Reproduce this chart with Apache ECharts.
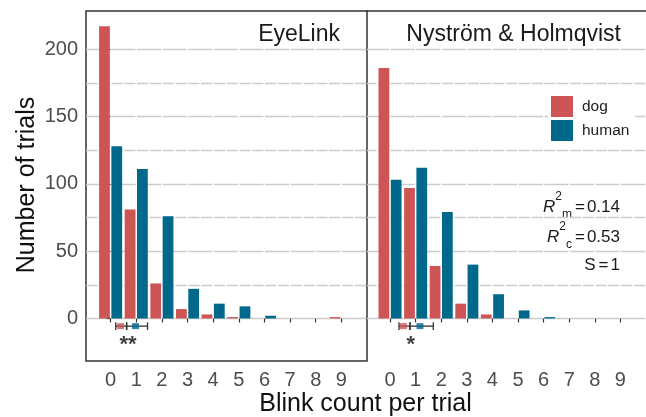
<!DOCTYPE html>
<html>
<head>
<meta charset="utf-8">
<script src="https://cdn.jsdelivr.net/npm/echarts@6/dist/echarts.min.js"></script>
<style>
  html, body { margin: 0; padding: 0; background: #fff; }
  #chart { width: 646px; height: 417px; }
</style>
</head>
<body>
<div id="chart"></div>
<script>
const blinkCounts = [0, 1, 2, 3, 4, 5, 6, 7, 8, 9];
const yTicks = [0, 50, 100, 150, 200];
const yMinor = [25, 75, 125, 175];
const panelTitles = ['EyeLink', 'Nyström & Holmqvist'];

const eyelinkDog = [217, 81, 26, 7, 3, 1, 0, 0, 0, 1];
const eyelinkHuman = [128, 111, 76, 22, 11, 9, 2, 0, 0, 0];
const nystromDog = [186, 97, 39, 11, 3, 0, 0, 0, 0, 0];
const nystromHuman = [103, 112, 79, 40, 18, 6, 1, 0, 0, 0];

// model estimate per group: [mean, lower, upper]
const eyelinkDogEst = [0.39, 0.20, 0.63];
const eyelinkHumanEst = [0.97, 0.62, 1.44];
const nystromDogEst = [0.52, 0.35, 0.78];
const nystromHumanEst = [1.17, 0.78, 1.69];
const estLevel = -5.7;

const sigStars = ['**', '*'];
const sigX = [0.68, 0.81];
const starLevel = -20;

const r2m = '0.14';
const r2c = '0.53';
const sValue = '1';

const red = '#CD5555';
const blue = '#00688B';
const font = '"Liberation Sans", Arial, sans-serif';
const gridColor = '#cbcbcb';

const chart = echarts.init(document.getElementById('chart'));

function pairs(vals) {
    return blinkCounts.map((c, i) => [c, vals[i]]);
}

function gridLines(idx, offset) {
    let major = yTicks.map(v => ({yAxis: v, lineStyle: {color: gridColor, width: 1.4, type: [24.1, 1.5], dashOffset: offset}}));
    let minor = yMinor.map(v => ({yAxis: v, lineStyle: {color: gridColor, width: 1.4, type: [11.3, 1.5], dashOffset: offset}}));
    return {
        type: 'line', xAxisIndex: idx, yAxisIndex: idx, data: [], silent: true, z: 0,
        markLine: {
            silent: true, symbol: ['none', 'none'], label: {show: false}, z: 0,
            emphasis: {disabled: true},
            data: major.concat(minor)
        }
    };
}

function bars(idx, name, vals, color) {
    return {
        type: 'bar', name: name, xAxisIndex: idx, yAxisIndex: idx, z: 2,
        data: pairs(vals), barCategoryGap: '10%', barGap: '14%',
        itemStyle: {color: color}
    };
}

function errorBars(idx, ests) {
    return {
        type: 'custom', xAxisIndex: idx, yAxisIndex: idx, z: 3,
        data: ests.map(e => [e[1], e[2], estLevel]),
        encode: {x: [0, 1], y: 2},
        renderItem: function (params, api) {
            let a = api.coord([api.value(0), api.value(2)]);
            let b = api.coord([api.value(1), api.value(2)]);
            let h = 3.8;
            let st = {stroke: '#333', lineWidth: 1.3};
            return {
                type: 'group',
                children: [
                    {type: 'line', shape: {x1: a[0], y1: a[1], x2: b[0], y2: b[1]}, style: st},
                    {type: 'line', shape: {x1: a[0], y1: a[1] - h, x2: a[0], y2: a[1] + h}, style: st},
                    {type: 'line', shape: {x1: b[0], y1: b[1] - h, x2: b[0], y2: b[1] + h}, style: st}
                ]
            };
        }
    };
}

function estPoint(idx, est, color) {
    return {
        type: 'scatter', xAxisIndex: idx, yAxisIndex: idx, z: 4, silent: true,
        symbol: 'rect', symbolSize: [7, 6],
        itemStyle: {color: color},
        data: [[est[0], estLevel]]
    };
}

function stars(idx) {
    return {
        type: 'scatter', xAxisIndex: idx, yAxisIndex: idx, z: 4, silent: true,
        symbolSize: 1, itemStyle: {color: 'transparent'},
        label: {
            show: true, position: 'inside', formatter: p => p.data.name,
            fontSize: 22, fontWeight: 'bold', color: '#111', fontFamily: font
        },
        data: [{name: sigStars[idx], value: [sigX[idx], starLevel]}]
    };
}

function statsRich() {
    return {
        r: {fontSize: 17, fontStyle: 'italic', fontFamily: font, fill: '#1a1a1a'},
        sup: {fontSize: 12, fontFamily: font, fill: '#1a1a1a', padding: [0, 0, 20, 0]},
        sub: {fontSize: 12, fontFamily: font, fill: '#1a1a1a', padding: [16, 0, 0, 0]},
        eq: {fontSize: 17, fontFamily: font, fill: '#1a1a1a', padding: [0, 2, 0, 3]},
        v: {fontSize: 17, fontFamily: font, fill: '#1a1a1a'}
    };
}

const xCommon = {
    type: 'value', max: 10,
    axisLine: {show: false},
    splitLine: {show: false},
    axisTick: {show: true, length: 4, lineStyle: {color: '#333', width: 1.2}, customValues: blinkCounts},
    axisLabel: {show: true, fontSize: 20, color: '#4d4d4d', margin: 9, fontFamily: font, customValues: blinkCounts}
};

const yCommon = {
    type: 'value', min: -31.6, max: 228.4,
    axisLine: {show: false},
    splitLine: {show: false}
};

const option = {
    animation: false,
    backgroundColor: '#fff',
    grid: [
        {left: 86, top: 11, width: 281, height: 350, show: true, borderColor: '#333', borderWidth: 1.5, backgroundColor: 'transparent'},
        {left: 367, top: 11, width: 281, height: 350}
    ],
    xAxis: [
        Object.assign({gridIndex: 0, min: -0.96}, xCommon),
        Object.assign({gridIndex: 1, min: -0.9}, xCommon),
        // top frame line of the right panel
        {gridIndex: 1, type: 'value', min: -0.9, max: 10, position: 'top',
         axisLine: {show: true, onZero: false, lineStyle: {color: '#333', width: 1.5}},
         axisTick: {show: false}, axisLabel: {show: false}, splitLine: {show: false}}
    ],
    yAxis: [
        Object.assign({
            gridIndex: 0,
            axisTick: {show: true, length: 4, lineStyle: {color: '#333', width: 1.2}, customValues: yTicks},
            axisLabel: {show: true, fontSize: 20, color: '#4d4d4d', margin: 8, fontFamily: font, customValues: yTicks}
        }, yCommon),
        Object.assign({
            gridIndex: 1,
            axisTick: {show: false},
            axisLabel: {show: false}
        }, yCommon)
    ],
    legend: {
        data: ['dog', 'human'], orient: 'vertical', left: 548, top: 94,
        itemWidth: 22, itemHeight: 21, itemGap: 3, icon: 'rect',
        backgroundColor: '#fff', padding: [2, 6, 2, 3], selectedMode: false,
        textStyle: {fontSize: 15.5, color: '#222', fontFamily: font, padding: [0, 0, 0, 4]}
    },
    graphic: [
        {type: 'text', x: 340, y: 35, silent: true,
         style: {text: panelTitles[0], fontSize: 23, fill: '#1a1a1a', fontFamily: font, align: 'right', verticalAlign: 'middle'}},
        {type: 'text', x: 621, y: 35, silent: true,
         style: {text: panelTitles[1], fontSize: 23, fill: '#1a1a1a', fontFamily: font, align: 'right', verticalAlign: 'middle'}},
        {type: 'text', x: 27, y: 185, rotation: Math.PI / 2, silent: true,
         style: {text: 'Number of trials', fontSize: 25, fill: '#111', fontFamily: font, align: 'center', verticalAlign: 'middle'}},
        {type: 'text', x: 365.5, y: 404, silent: true,
         style: {text: 'Blink count per trial', fontSize: 25, fill: '#111', fontFamily: font, align: 'center', verticalAlign: 'middle'}},
        {type: 'text', x: 620, y: 207, silent: true,
         style: {text: '{r|R}{sup|2}{sub|m}{eq|=}{v|' + r2m + '}', align: 'right', verticalAlign: 'middle', rich: statsRich()}},
        {type: 'text', x: 620, y: 237, silent: true,
         style: {text: '{r|R}{sup|2}{sub|c}{eq|=}{v|' + r2c + '}', align: 'right', verticalAlign: 'middle', rich: statsRich()}},
        {type: 'text', x: 620, y: 265, silent: true,
         style: {text: '{v|S}{eq|=}{v|' + sValue + '}', align: 'right', verticalAlign: 'middle', rich: statsRich()}}
    ],
    series: [
        gridLines(0, 0.15),
        gridLines(1, 1.85),
        bars(0, 'dog', eyelinkDog, red),
        bars(0, 'human', eyelinkHuman, blue),
        bars(1, 'dog', nystromDog, red),
        bars(1, 'human', nystromHuman, blue),
        errorBars(0, [eyelinkDogEst, eyelinkHumanEst]),
        errorBars(1, [nystromDogEst, nystromHumanEst]),
        estPoint(0, eyelinkDogEst, red),
        estPoint(0, eyelinkHumanEst, blue),
        estPoint(1, nystromDogEst, red),
        estPoint(1, nystromHumanEst, blue),
        stars(0),
        stars(1)
    ]
};

chart.setOption(option);
window.addEventListener('resize', function () {
    chart.resize();
});
</script>
</body>
</html>
